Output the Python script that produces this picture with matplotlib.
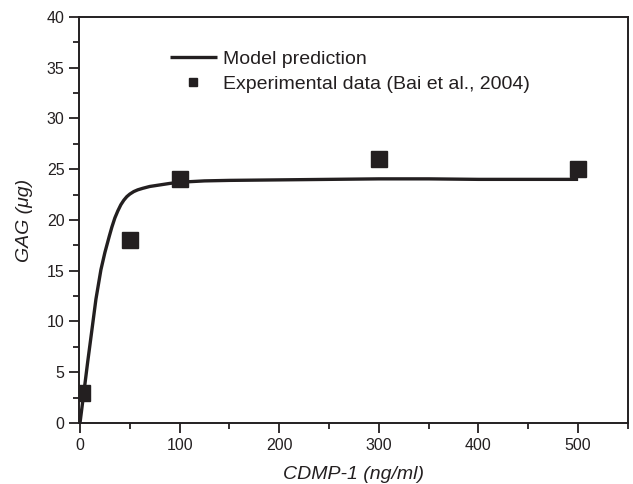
import matplotlib
matplotlib.use("Agg")
import matplotlib.pyplot as plt
from matplotlib.ticker import MultipleLocator

# model curve
model_x = [0, 4, 7.7, 12, 16, 21, 25, 29.4, 32, 35, 38, 41, 44, 47, 50, 54,
           58, 63, 70, 80, 90, 100, 125, 150, 200, 250, 300, 350, 400, 450,
           500]
model_y = [0, 3.1, 6.0, 9.2, 12.2, 15.1, 16.8, 18.4, 19.3, 20.2, 20.9, 21.5,
           21.95, 22.3, 22.55, 22.8, 22.97, 23.12, 23.3, 23.45, 23.6, 23.72,
           23.85, 23.9, 23.95, 24.0, 24.05, 24.05, 24.0, 24.0, 24.0]

# experimental points (Bai et al., 2004)
exp_x = [2.5, 50, 100, 300, 500]
exp_y = [3, 18, 24, 26, 25]

ink = "#231f20"
plt.rcParams["font.family"] = ["Liberation Sans", "DejaVu Sans"]

fig = plt.figure(figsize=(6.33, 4.84), dpi=100)
ax = fig.add_axes([0.1248, 0.126, 0.8672, 0.839])

ax.plot(model_x, model_y, color=ink, lw=2.4, label="Model prediction",
        solid_capstyle="butt", solid_joinstyle="round")
ax.plot(exp_x, exp_y, ls="none", marker="s", ms=11.5, color=ink,
        label="Experimental data (Bai et al., 2004)")

ax.set_xlim(-1, 550)
ax.set_ylim(0, 40)
ax.xaxis.set_major_locator(MultipleLocator(100))
ax.xaxis.set_minor_locator(MultipleLocator(50))
ax.yaxis.set_major_locator(MultipleLocator(5))
ax.yaxis.set_minor_locator(MultipleLocator(2.5))
ax.tick_params(which="both", direction="out", color=ink, width=1.3,
               labelsize=11.5, labelcolor=ink)
ax.tick_params(which="major", length=7)
ax.tick_params(which="minor", length=4)
for s in ax.spines.values():
    s.set_linewidth(1.4)
    s.set_color(ink)

ax.set_xlabel("CDMP-1 (ng/ml)", fontsize=14, style="italic", color=ink,
              labelpad=10)
ax.set_ylabel("GAG (μg)", fontsize=14, style="italic", color=ink,
              labelpad=10)

ax.legend(loc="center left", bbox_to_anchor=(0.166, 0.865), frameon=False,
          fontsize=14, handlelength=2.4, handletextpad=0.3,
          labelspacing=0.4, borderpad=0, borderaxespad=0, markerscale=0.5,
          labelcolor=ink)

fig.savefig("out.png", dpi=100)
